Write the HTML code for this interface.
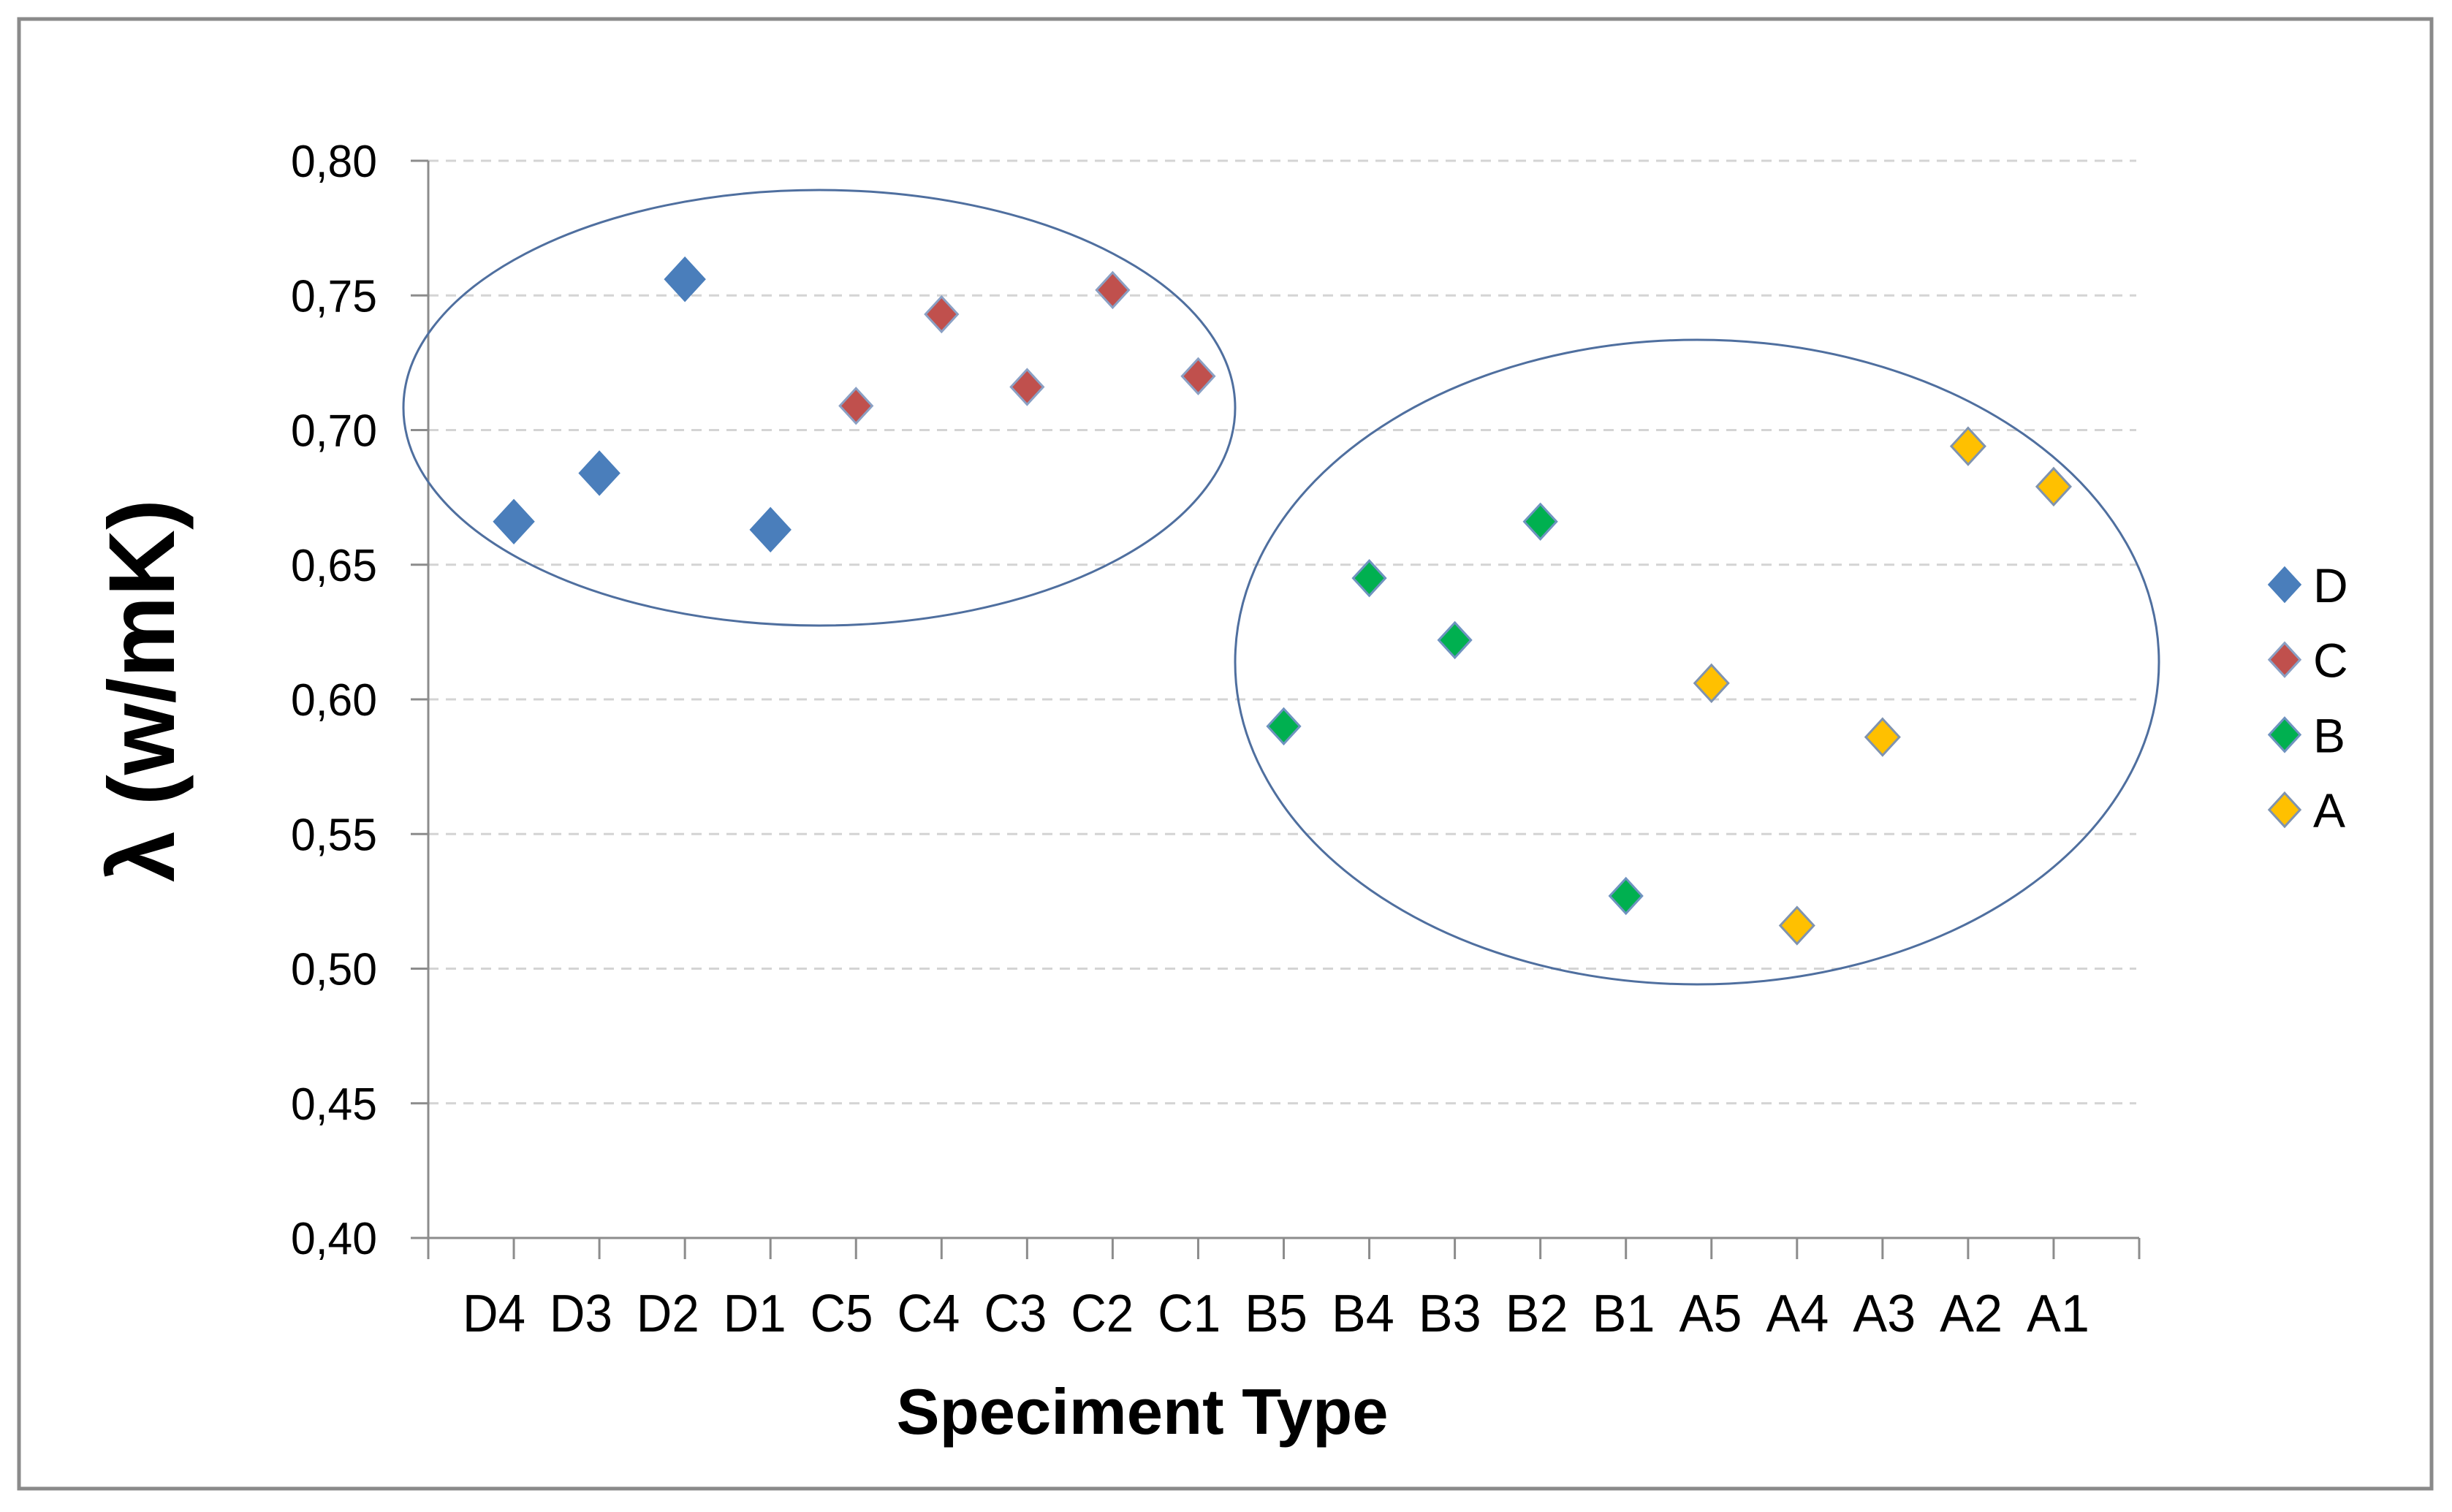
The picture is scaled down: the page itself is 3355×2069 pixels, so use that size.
<!DOCTYPE html>
<html><head><meta charset="utf-8"><style>
html,body{margin:0;padding:0;background:#fff;}
svg{display:block;font-family:"Liberation Sans",sans-serif;}
</style></head><body>
<svg id="chart" width="3355" height="2069" viewBox="0 0 3355 2069" xmlns="http://www.w3.org/2000/svg">
<rect x="26" y="26" width="3301" height="2011" fill="#fff" stroke="#8a8a8a" stroke-width="5"/>
<g id="grid"></g>
<g id="axes"></g>
<ellipse cx="1121" cy="558" rx="569" ry="298" fill="none" stroke="#4f6f9f" stroke-width="3"/>
<ellipse cx="2322" cy="906" rx="632" ry="441" fill="none" stroke="#4f6f9f" stroke-width="3"/>
<g id="marks"></g>
<text transform="translate(238,945) rotate(-90)" text-anchor="middle" font-size="128" font-weight="bold" textLength="524" lengthAdjust="spacingAndGlyphs">λ (w/mK)</text>
<text x="1563" y="1962" text-anchor="middle" font-size="88" font-weight="bold" textLength="673" lengthAdjust="spacingAndGlyphs">Speciment Type</text>
<g id="legend"></g>
</svg>
<script>
const categories = ["D4","D3","D2","D1","C5","C4","C3","C2","C1","B5","B4","B3","B2","B1","A5","A4","A3","A2","A1"];
const seriesNames = ["D","C","B","A"];
const seriesD = [0.666,0.684,0.756,0.663,null,null,null,null,null,null,null,null,null,null,null,null,null,null,null];
const seriesC = [null,null,null,null,0.709,0.743,0.716,0.752,0.720,null,null,null,null,null,null,null,null,null,null];
const seriesB = [null,null,null,null,null,null,null,null,null,0.590,0.645,0.622,0.666,0.527,null,null,null,null,null];
const seriesA = [null,null,null,null,null,null,null,null,null,null,null,null,null,null,0.606,0.516,0.586,0.694,0.679];
const yTicks = [0.40,0.45,0.50,0.55,0.60,0.65,0.70,0.75,0.80];
const yTickLabels = ["0,40","0,45","0,50","0,55","0,60","0,65","0,70","0,75","0,80"];

const NS="http://www.w3.org/2000/svg";
const X0=586, X1=2927, Y0=1694, Y1=220, YMIN=0.40, YMAX=0.80;
const nSlots = categories.length+1;
function xPos(i){return X0+(i+1)*(X1-X0)/nSlots;}
function yPos(v){return Y0-(v-YMIN)/(YMAX-YMIN)*(Y0-Y1);}
function labelX(i){return 676+i*(2140/(categories.length-1));}
function mk(tag,attrs,parent){const e=document.createElementNS(NS,tag);for(const k in attrs)e.setAttribute(k,attrs[k]);parent.appendChild(e);return e;}
const grid=document.getElementById('grid'), axes=document.getElementById('axes'), marks=document.getElementById('marks'), legend=document.getElementById('legend');

yTicks.forEach((t,i)=>{
  const y=yPos(t);
  if(i>0){const g=mk('line',{x1:X0,x2:X1-4,y1:y,y2:y,stroke:'#d4d4d4','stroke-width':3,'stroke-dasharray':'14 10'},grid);
  
  }
  const tk=mk('line',{x1:X0-24,x2:X0,y1:y,y2:y,stroke:'#8c8c8c','stroke-width':3},axes);
  
  
  const lb=mk('text',{x:516,y:y+22,'text-anchor':'end','font-size':62,textLength:118,lengthAdjust:'spacingAndGlyphs'},axes);
  lb.textContent=yTickLabels[i];
  
  
});
const ya=mk('line',{x1:X0,x2:X0,y1:Y1,y2:Y0,stroke:'#8c8c8c','stroke-width':3},axes);


const xa=mk('line',{x1:X0-24,x2:X1,y1:Y0,y2:Y0,stroke:'#8c8c8c','stroke-width':3},axes);


for(let i=0;i<=nSlots;i++){
  const x=X0+i*(X1-X0)/nSlots;
  const t=mk('line',{x1:x,x2:x,y1:Y0,y2:Y0+29,stroke:'#8c8c8c','stroke-width':3},axes);
  
  
}
categories.forEach((c,i)=>{
  const t=mk('text',{x:labelX(i),y:1822,'text-anchor':'middle','font-size':72,textLength:86,lengthAdjust:'spacingAndGlyphs'},axes);
  t.textContent=c;
  
  
});

const series=[seriesD,seriesC,seriesB,seriesA];
const fills=['#4a7ebb','#c0504d','#00b050','#ffc000'];
const strokes=['#4a7ebb','#8aa0c4','#6f93c0','#7f93b0'];
const sizes=[29,24,24,25];
function diamond(cx,cy,h,fill,stroke,parent){
  return mk('polygon',{points:`${cx},${cy-h} ${cx+h*0.92},${cy} ${cx},${cy+h} ${cx-h*0.92},${cy}`,fill:fill,stroke:stroke,'stroke-width':3},parent);
}
series.forEach((s,si)=>{
  s.forEach((v,i)=>{
    if(v===null)return;
    const d=diamond(xPos(i),yPos(v),sizes[si],fills[si],strokes[si],marks);
    
    
  });
});
seriesNames.forEach((n,i)=>{
  const y=800+i*102.7;
  const d=diamond(3126,y,23,fills[i],strokes[i],legend);
  
  
  const t=mk('text',{x:3165,y:y+24,'font-size':66},legend);
  t.textContent=n;
  
  
});
</script>
</body></html>
